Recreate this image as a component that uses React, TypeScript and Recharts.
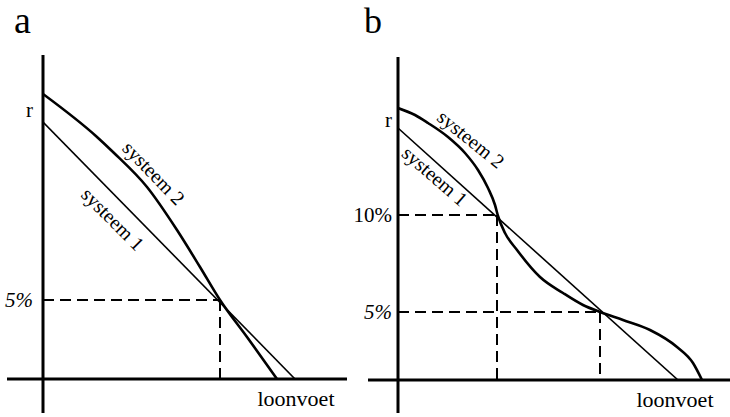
import React from "react";
import {
  LineChart,
  Line,
  XAxis,
  YAxis,
  ReferenceLine,
  ReferenceDot,
} from "recharts";

const SERIF = '"Liberation Serif", "DejaVu Serif", serif';

// panel a
const aSysteem1 = [
  { x: 0, y: 25.7 },
  { x: 25.2, y: 0 },
];
const aSysteem2 = [
  { x: 0, y: 28.5 },
  { x: 5.4, y: 24.2 },
  { x: 7.0, y: 22.7 },
  { x: 10.4, y: 19.2 },
  { x: 13.4, y: 14.9 },
  { x: 15.7, y: 11.2 },
  { x: 17.7, y: 7.9 },
  { x: 20.4, y: 4.2 },
  { x: 23.4, y: 0 },
];
const aTicks = [26.9, 7.9];
const aTickLabels = ["r", "5%"];
const aSnijpunten = [{ x: 17.7, y: 7.9 }];
const aLabels = [
  { x: 11.1, y: 20.6, text: "systeem 2", angle: 46 },
  { x: 7.0, y: 16.0, text: "systeem 1", angle: 45 },
];

// panel b
const bSysteem1 = [
  { x: 0, y: 25.2 },
  { x: 28.0, y: 0 },
];
const bSysteem2 = [
  { x: 0, y: 27.2 },
  { x: 1.7, y: 26.5 },
  { x: 3.0, y: 25.7 },
  { x: 5.0, y: 24.3 },
  { x: 6.7, y: 22.7 },
  { x: 8.0, y: 21.0 },
  { x: 9.0, y: 19.2 },
  { x: 9.7, y: 17.5 },
  { x: 10.0, y: 16.4 },
  { x: 10.7, y: 14.7 },
  { x: 11.9, y: 13.0 },
  { x: 14.2, y: 10.3 },
  { x: 16.5, y: 8.7 },
  { x: 18.5, y: 7.5 },
  { x: 20.2, y: 6.8 },
  { x: 22.5, y: 6.0 },
  { x: 25.2, y: 5.0 },
  { x: 27.9, y: 3.3 },
  { x: 29.5, y: 1.7 },
  { x: 30.4, y: 0 },
];
const bTicks = [26, 16.5, 6.8];
const bTickLabels = ["r", "10%", "5%"];
const bSnijpunten = [
  { x: 9.9, y: 16.5 },
  { x: 20.2, y: 6.8 },
];
const bLabels = [
  { x: 7.3, y: 24.1, text: "systeem 2", angle: 39 },
  { x: 3.7, y: 20.4, text: "systeem 1", angle: 41 },
];

type Pt = { x: number; y: number };
type Lbl = { x: number; y: number; text: string; angle: number };

interface PanelProps {
  left: number;
  width: number;
  margin: { top: number; right: number; left: number; bottom: number };
  yAxisWidth: number;
  xMax: number;
  yMax: number;
  xMin: number;
  yMin: number;
  systeem1: Pt[];
  systeem2: Pt[];
  ticks: number[];
  tickLabels: string[];
  tickDx: number;
  snijpunten: Pt[];
  labels: Lbl[];
  loonvoetX: number;
}

// gedraaid label langs een curve
function RotLabel({ viewBox, tekst, draai }: any) {
  const x = viewBox.x + (viewBox.width || 0) / 2;
  const y = viewBox.y + (viewBox.height || 0) / 2;
  return (
    <text
      x={x}
      y={y}
      dy="0.35em"
      textAnchor="middle"
      transform={`rotate(${draai} ${x} ${y})`}
      style={{ fontFamily: SERIF, fontSize: 20 }}
      fill="#000"
    >
      {tekst}
    </text>
  );
}

function Panel(p: PanelProps) {
  const YTick = (props: any) => {
    const i = p.ticks.indexOf(props.payload.value);
    const label = p.tickLabels[i] ?? "";
    return (
      <text
        x={props.x + p.tickDx}
        y={props.y}
        dy="0.35em"
        textAnchor="end"
        fontFamily={SERIF}
        fontSize={21}
        fontStyle={label === "5%" ? "italic" : "normal"}
        fill="#000"
      >
        {label}
      </text>
    );
  };
  const XTick = (props: any) => (
    <text
      x={props.x}
      y={props.y + 19}
      textAnchor="middle"
      fontFamily={SERIF}
      fontSize={22}
      fill="#000"
    >
      loonvoet
    </text>
  );

  return (
    <div style={{ position: "absolute", left: p.left, top: 0 }}>
      <LineChart width={p.width} height={417} margin={p.margin}>
        <XAxis
          dataKey="x"
          type="number"
          domain={[0, p.xMax]}
          allowDataOverflow
          ticks={[p.loonvoetX]}
          tick={<XTick />}
          axisLine={false}
          tickLine={false}
          height={30}
        />
        <YAxis
          dataKey="y"
          type="number"
          domain={[0, p.yMax]}
          allowDataOverflow
          ticks={p.ticks}
          interval={0}
          tick={<YTick />}
          axisLine={false}
          tickLine={false}
          width={p.yAxisWidth}
        />

        {/* assen */}
        <ReferenceLine
          segment={[
            { x: p.xMin, y: 0 },
            { x: p.xMax, y: 0 },
          ]}
          stroke="#000"
          strokeWidth={3}
          ifOverflow="visible"
        />
        <ReferenceLine
          segment={[
            { x: 0, y: p.yMin },
            { x: 0, y: p.yMax },
          ]}
          stroke="#000"
          strokeWidth={3}
          ifOverflow="visible"
        />

        {/* hulplijnen */}
        {p.snijpunten.map((s, i) => (
          <ReferenceLine
            key={"h" + i}
            segment={[
              { x: 0, y: s.y },
              { x: s.x, y: s.y },
            ]}
            stroke="#000"
            strokeWidth={2}
            strokeDasharray="11 6"
            ifOverflow="visible"
          />
        ))}
        {p.snijpunten.map((s, i) => (
          <ReferenceLine
            key={"v" + i}
            segment={[
              { x: s.x, y: s.y },
              { x: s.x, y: 0 },
            ]}
            stroke="#000"
            strokeWidth={2}
            strokeDasharray="11 6"
            ifOverflow="visible"
          />
        ))}

        <Line
          data={p.systeem1}
          dataKey="y"
          type="linear"
          stroke="#000"
          strokeWidth={1.6}
          dot={false}
          isAnimationActive={false}
        />
        <Line
          data={p.systeem2}
          dataKey="y"
          type="monotone"
          stroke="#000"
          strokeWidth={2.6}
          dot={false}
          isAnimationActive={false}
        />

        {p.labels.map((l, i) => (
          <ReferenceDot
            key={"l" + i}
            x={l.x}
            y={l.y}
            r={0}
            fill="none"
            stroke="none"
            ifOverflow="visible"
            label={<RotLabel tekst={l.text} draai={l.angle} />}
          />
        ))}
      </LineChart>
    </div>
  );
}

export default function App() {
  return (
    <div
      style={{
        position: "absolute",
        left: 0,
        top: 0,
        width: 730,
        height: 417,
        background: "#fff",
        overflow: "hidden",
      }}
    >
      <div
        style={{
          position: "absolute",
          left: 14,
          top: 1,
          fontFamily: SERIF,
          fontSize: 38,
          lineHeight: "38px",
        }}
      >
        a
      </div>
      <div
        style={{
          position: "absolute",
          left: 364,
          top: 3,
          fontFamily: SERIF,
          fontSize: 36,
          lineHeight: "36px",
        }}
      >
        b
      </div>

      <Panel
        left={0}
        width={365}
        margin={{ top: 55, right: 18, left: 3, bottom: 8 }}
        yAxisWidth={40}
        xMin={-3.6}
        xMax={30.4}
        yMin={-3.4}
        yMax={32.4}
        systeem1={aSysteem1}
        systeem2={aSysteem2}
        ticks={aTicks}
        tickLabels={aTickLabels}
        tickDx={-2}
        snijpunten={aSnijpunten}
        labels={aLabels}
        loonvoetX={25.3}
      />
      <Panel
        left={340}
        width={390}
        margin={{ top: 57, right: 0, left: 8, bottom: 7 }}
        yAxisWidth={50}
        xMin={-3.0}
        xMax={33.2}
        yMin={-3.3}
        yMax={32.3}
        systeem1={bSysteem1}
        systeem2={bSysteem2}
        ticks={bTicks}
        tickLabels={bTickLabels}
        tickDx={2}
        snijpunten={bSnijpunten}
        labels={bLabels}
        loonvoetX={27.7}
      />
    </div>
  );
}
